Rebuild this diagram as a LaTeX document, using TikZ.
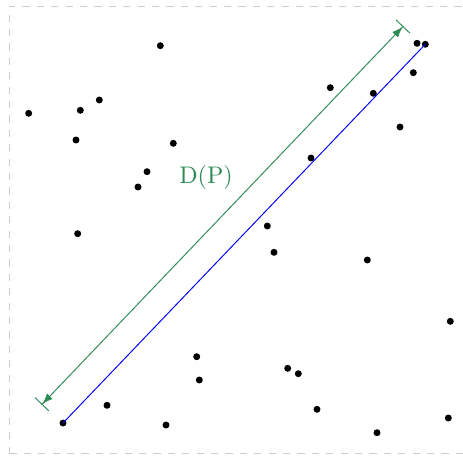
\documentclass[tikz,border=0pt]{standalone}
\usetikzlibrary{arrows.meta}
\definecolor{dgreen}{RGB}{46,139,87}
\begin{document}
\begin{tikzpicture}[x=0.4168pt,y=-0.4168pt,
  pt/.style={circle,fill=black,inner sep=0pt,minimum size=2.9pt},
  frame/.style={draw=black!20,dashed},
  diam/.style={blue},
  dimline/.style={dgreen,{Bar[width=8pt]Latex[length=4.5pt,width=3.3pt]}-{Latex[length=4.5pt,width=3.3pt]Bar[width=8pt]}},
  lab/.style={text=dgreen,font=\normalsize}]
\useasboundingbox (0,0) rectangle (463,457);
\draw[frame] (9.5,453.7) -- (9.5,6) -- (470,6) (9.5,453.7) -- (470,453.7);
% points
\node[pt] (p1) at (160.3,45.7) {};
\node[pt] (p2) at (417,43.3) {};
\node[pt] (q) at (425.3,44.3) {};
\node[pt] (p4) at (413.3,72.7) {};
\node[pt] (p5) at (330.3,87.7) {};
\node[pt] (p6) at (373.3,93.3) {};
\node[pt] (p7) at (28.7,113.3) {};
\node[pt] (p8) at (80.3,110.3) {};
\node[pt] (p9) at (99.3,100) {};
\node[pt] (p10) at (76,140) {};
\node[pt] (p11) at (173.3,143.3) {};
\node[pt] (p12) at (400,127) {};
\node[pt] (p13) at (311,158) {};
\node[pt] (p14) at (147,171.7) {};
\node[pt] (p15) at (138,187) {};
\node[pt] (p16) at (267.3,226) {};
\node[pt] (p17) at (77.7,233.7) {};
\node[pt] (p18) at (274,252.3) {};
\node[pt] (p19) at (367.3,260) {};
\node[pt] (p20) at (450.3,321.3) {};
\node[pt] (p21) at (196.7,356.7) {};
\node[pt] (p22) at (199.3,380) {};
\node[pt] (p23) at (287.7,368.3) {};
\node[pt] (p24) at (298.3,373.7) {};
\node[pt] (p25) at (107,405.3) {};
\node[pt] (p26) at (317,409.3) {};
\node[pt] (p) at (63,423) {};
\node[pt] (p28) at (166,425) {};
\node[pt] (p29) at (377,432.7) {};
\node[pt] (p30) at (448.3,418) {};
% diameter
\draw[diam] (p.center) -- (q.center);
\coordinate (g1) at (41.7,404.7);
\coordinate (g2) at (403.3,26.2);
\draw[dimline] (g1) -- (g2);
\node[lab] (dp) at (206,178) {D(P)};
\end{tikzpicture}
\end{document}
